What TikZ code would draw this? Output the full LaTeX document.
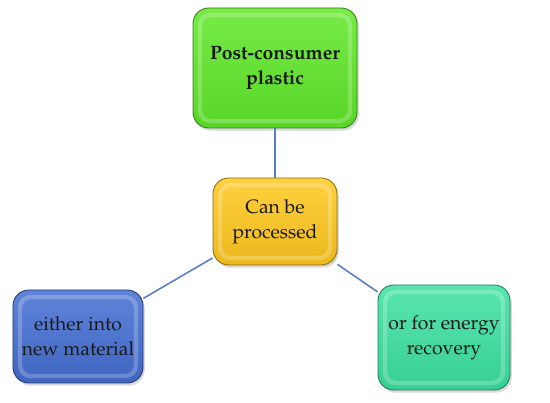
\documentclass[tikz,border=0pt]{standalone}
\usepackage[T1]{fontenc}
\usepackage{mathpazo}
\usepackage{tikz}
\usetikzlibrary{shadows}

\definecolor{plasticgreen}{RGB}{95,232,40}
\definecolor{processyellow}{RGB}{255,200,30}
\definecolor{materialblue}{RGB}{68,110,210}
\definecolor{energyteal}{RGB}{60,225,160}
\definecolor{linkblue}{RGB}{90,125,200}

\begin{document}
\begin{tikzpicture}[
        box/.style={rounded corners=9pt, align=center, inner sep=0pt,
            font=\fontsize{11}{14}\selectfont, text=black!90,
            top color=#1!85!white, bottom color=#1!92!black, draw=#1!55!black, line width=0.5pt,
            drop shadow={shadow xshift=1pt, shadow yshift=-1.5pt, opacity=0.3},
            path picture={\draw[white, opacity=0.22, line width=2.5pt, rounded corners=6pt]
                ([shift={(4pt,-4pt)}]path picture bounding box.north west) rectangle
                ([shift={(-4pt,4pt)}]path picture bounding box.south east);}},
        link/.style={linkblue, line width=0.9pt}]
        \useasboundingbox (0,0) rectangle (11,8.06);
        \node[box=plasticgreen, minimum width=3.28cm, minimum height=2.4cm, font=\fontsize{11}{14}\selectfont\bfseries]
            (plastic) at (5.5,6.70) {Post-consumer\\plastic};
        \node[box=processyellow, minimum width=2.48cm, minimum height=1.74cm]
            (process) at (5.5,3.63) {Can be\\processed};
        \node[box=materialblue, minimum width=2.6cm, minimum height=1.86cm]
            (material) at (1.56,1.33) {either into\\new material};
        \node[box=energyteal, minimum width=2.64cm, minimum height=2.1cm]
            (energy) at (8.88,1.31) {or for energy\\recovery};
        \draw[link] (plastic) -- (process);
        \draw[link] (process) -- (material);
        \draw[link] (process) -- (energy);
    \end{tikzpicture}
\end{document}
